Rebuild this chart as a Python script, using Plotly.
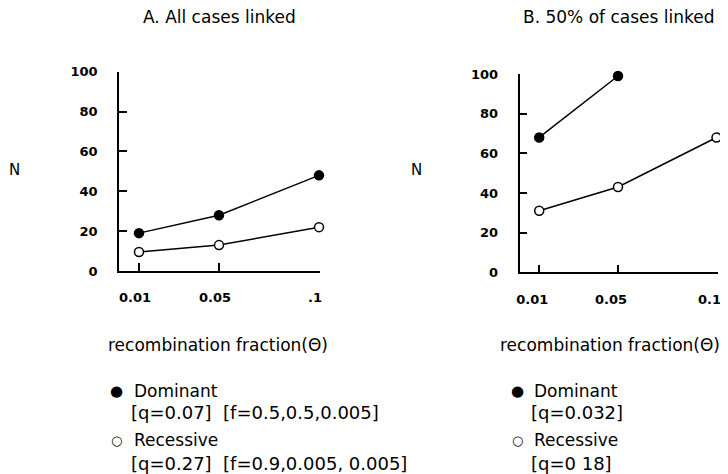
import plotly.graph_objects as go

# the page body adds an 8px margin; the figure is placed inside it
OFF = 8
W, H = 728 - OFF, 474 - OFF

# ---- data ----
theta = [0.01, 0.05, 0.1]
a_dominant = [19, 28, 48]
a_recessive = [9.5, 13, 22]
b_theta_dom = [0.01, 0.05]
b_dominant = [68, 99]
b_recessive = [31, 43, 68]

a_ticktext = ["0.01", "0.05", ".1"]
b_ticktext = ["0.01", "0.05", "0.1"]
y_ticks = [0, 20, 40, 60, 80, 100]

title_a = "A. All cases linked"
title_b = "B. 50% of cases linked"
x_title = "recombination fraction(Θ)"
y_title = "N"
leg_a = [("Dominant", "[q=0.07]  [f=0.5,0.5,0.005]"),
         ("Recessive", "[q=0.27]  [f=0.9,0.005, 0.005]")]
leg_b = [("Dominant", "[q=0.032]"),
         ("Recessive", "[q=0 18]")]

FONT = "DejaVu Sans"


def px(x):
    return (x - OFF) / W


def py(y):
    return 1 - (y - OFF) / H


fig = go.Figure()

filled = dict(symbol="circle", size=9, color="black", line=dict(color="black", width=1.5))
opened = dict(symbol="circle", size=9, color="white", line=dict(color="black", width=1.5))
line = dict(color="black", width=1.5)

for xs, ys, mk, xa, ya, nm in [
    (theta, a_dominant, filled, "x", "y", "Dominant"),
    (theta, a_recessive, opened, "x", "y", "Recessive"),
    (b_theta_dom, b_dominant, filled, "x2", "y2", "Dominant"),
    (theta, b_recessive, opened, "x2", "y2", "Recessive"),
]:
    fig.add_trace(go.Scatter(x=xs, y=ys, mode="lines+markers", marker=mk, line=line,
                             xaxis=xa, yaxis=ya, name=nm, cliponaxis=False))

xcommon = dict(range=[0, 0.1005], showline=True, linecolor="black", linewidth=1.5,
               ticks="inside", ticklen=8, tickwidth=1.5, tickcolor="black",
               showgrid=False, zeroline=False, tickvals=theta, automargin=False,
               tickfont=dict(family=FONT, size=13, color="black", weight="bold"),
               ticklabelstandoff=14, ticklabeloverflow="allow")
ycommon = dict(range=[0, 100], showline=True, linecolor="black", linewidth=1.5,
               ticks="inside", ticklen=8, tickwidth=1.5, tickcolor="black",
               showgrid=False, zeroline=False, tickvals=y_ticks, automargin=False,
               tickfont=dict(family=FONT, size=13, color="black", weight="bold"),
               ticklabelstandoff=17, ticklabeloverflow="allow")

fig.update_layout(
    width=W, height=H,
    margin=dict(l=0, r=0, t=0, b=0, pad=0, autoexpand=False),
    paper_bgcolor="white", plot_bgcolor="white",
    showlegend=False,
    xaxis=dict(domain=[px(119), px(320)], anchor="y", ticktext=a_ticktext,
               ticklabelshift=-4, **xcommon),
    yaxis=dict(domain=[py(271), py(71.7)], anchor="x", **ycommon),
    xaxis2=dict(domain=[px(519.5), px(717.5)], anchor="y2", ticktext=b_ticktext,
                ticklabelshift=-7, **xcommon),
    yaxis2=dict(domain=[py(272.3), py(74)], anchor="x2", **ycommon),
)

ann = []


def text(x, y, s, size=15, xanchor="center"):
    ann.append(dict(x=px(x), y=py(y), xref="paper", yref="paper", text=s,
                    showarrow=False, xanchor=xanchor, yanchor="middle",
                    font=dict(family=FONT, size=size, color="black")))


text(219, 17, title_a, 17)
text(619, 17, title_b, 17)
text(14, 170, y_title, 15)
text(416, 170, y_title, 15)
text(218, 345, x_title, 17)
text(610, 345, x_title, 17)

for (lx, entries) in [(117, leg_a), (517, leg_b)]:
    rows = [(391, 412), (440, 463)]
    for i, ((name, params), (y1, y2)) in enumerate(zip(entries, rows)):
        text(lx, y1, "●" if i == 0 else "○", 15 if i == 0 else 13)
        text(lx + 15, y1, name, 17, "left")
        text(lx + 12, y2, params, 18, "left")

fig.update_layout(annotations=ann)
fig.write_html("out.html")
